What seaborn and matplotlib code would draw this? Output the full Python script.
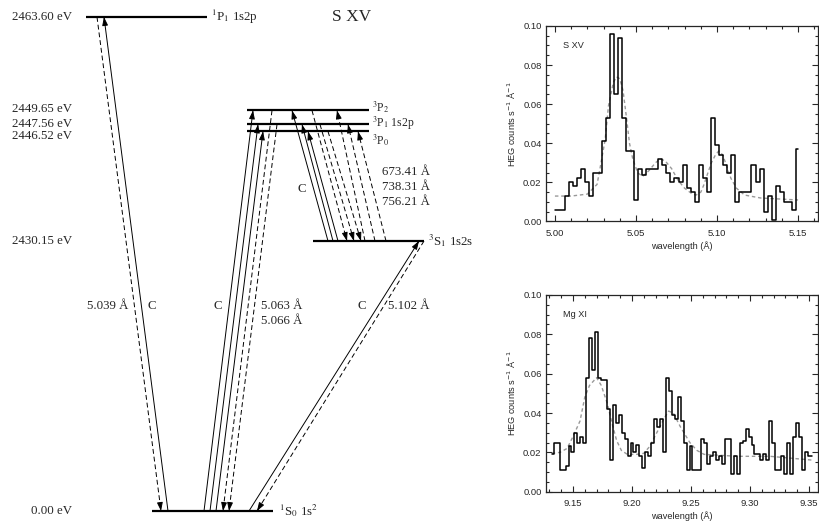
import numpy as np
import pandas as pd
import matplotlib
matplotlib.use('Agg')
import matplotlib.pyplot as plt
from matplotlib.ticker import MultipleLocator, FormatStrFormatter
import seaborn as sns

# HEG spectra, counts s^-1 A^-1, one value per 0.0025 A bin
bin_width = 0.0025
sxv_first_bin = 5.000
sxv_counts = [0.006, 0.006, 0.006, 0.013, 0.020, 0.018, 0.022, 0.027, 0.020, 0.013,
              0.025, 0.025, 0.041, 0.053, 0.096, 0.065, 0.094, 0.053, 0.036, 0.036,
              0.011, 0.027, 0.024, 0.027, 0.027, 0.027, 0.032, 0.029, 0.025, 0.020,
              0.022, 0.020, 0.029, 0.017, 0.015, 0.010, 0.029, 0.022, 0.015, 0.053,
              0.039, 0.034, 0.029, 0.025, 0.034, 0.010, 0.015, 0.015, 0.015, 0.029,
              0.020, 0.027, 0.005, 0.013, 0.001, 0.018, 0.015, 0.010, 0.010, 0.006,
              0.037]
sxv_fit_wave = [5.000, 5.010, 5.020, 5.026, 5.028, 5.031, 5.033, 5.036, 5.038, 5.040,
                5.042, 5.044, 5.046, 5.048, 5.051, 5.054, 5.058, 5.062, 5.065, 5.068,
                5.072, 5.076, 5.080, 5.084, 5.087, 5.090, 5.092, 5.094, 5.0965, 5.099,
                5.101, 5.1036, 5.106, 5.1086, 5.112, 5.117, 5.127, 5.150]
sxv_fit = [0.013, 0.013, 0.014, 0.019, 0.028, 0.042, 0.059, 0.071, 0.074, 0.073,
           0.067, 0.054, 0.040, 0.032, 0.025, 0.023, 0.026, 0.030, 0.032, 0.031,
           0.027, 0.021, 0.017, 0.0145, 0.0135, 0.015, 0.019, 0.024, 0.030, 0.034,
           0.036, 0.034, 0.028, 0.022, 0.017, 0.0135, 0.012, 0.011]

mgxi_first_bin = 9.1325
mgxi_counts = [0.019, 0.025, 0.025, 0.011, 0.011, 0.013, 0.023, 0.020, 0.030, 0.025,
               0.028, 0.025, 0.058, 0.078, 0.062, 0.081, 0.058, 0.057, 0.057, 0.042,
               0.016, 0.044, 0.035, 0.039, 0.030, 0.027, 0.018, 0.025, 0.020, 0.024,
               0.018, 0.012, 0.020, 0.018, 0.025, 0.037, 0.033, 0.037, 0.020, 0.058,
               0.051, 0.039, 0.037, 0.048, 0.036, 0.025, 0.011, 0.023, 0.011, 0.011,
               0.011, 0.027, 0.025, 0.014, 0.018, 0.020, 0.016, 0.018, 0.014, 0.027,
               0.027, 0.009, 0.018, 0.009, 0.025, 0.026, 0.032, 0.028, 0.024, 0.019,
               0.019, 0.016, 0.019, 0.016, 0.036, 0.025, 0.011, 0.011, 0.018, 0.009,
               0.025, 0.009, 0.028, 0.035, 0.028, 0.011, 0.020, 0.018, 0.018]
mgxi_fit_wave = [9.132, 9.139, 9.145, 9.150, 9.156, 9.160, 9.164, 9.170, 9.174, 9.179,
                 9.183, 9.187, 9.191, 9.196, 9.204, 9.210, 9.215, 9.221, 9.227, 9.231,
                 9.235, 9.241, 9.244, 9.249, 9.255, 9.261, 9.289, 9.317, 9.354]
mgxi_fit = [0.0195, 0.020, 0.022, 0.028, 0.036, 0.048, 0.054, 0.058, 0.054, 0.045,
            0.035, 0.026, 0.021, 0.019, 0.019, 0.0195, 0.023, 0.030, 0.037, 0.041,
            0.040, 0.033, 0.030, 0.025, 0.021, 0.019, 0.018, 0.018, 0.016]

# S XV energy levels
level_ev = [0.00, 2430.15, 2446.52, 2447.56, 2449.65, 2463.60]
level_text = ['0.00 eV', '2430.15 eV', '2446.52 eV', '2447.56 eV', '2449.65 eV', '2463.60 eV']
level_names = [r'$^{1}$S$_{0}$ 1s$^{2}$', r'$^{3}$S$_{1}$ 1s2s', r'$^{3}$P$_{0}$',
               r'$^{3}$P$_{1}$ 1s2p', r'$^{3}$P$_{2}$', r'$^{1}$P$_{1}$ 1s2p']
# wavelengths of the transitions
line_labels = ['5.039 Å', '5.063 Å', '5.066 Å', '5.102 Å', '673.41 Å', '738.31 Å', '756.21 Å']

# ---- layout of the schematic (x in pixels, y in eV, ground put on a broken scale) ----
PX_PER_EV = 224 / 33.45
TOP_EV = 2463.60 + 17 / PX_PER_EV
GROUND_SHOW = TOP_EV - 511 / PX_PER_EV


def ev_y(i):
    return GROUND_SHOW if level_ev[i] == 0 else level_ev[i]


def py(p):
    return TOP_EV - p / PX_PER_EV


level_x = [(152, 273), (313, 424), (247, 369), (247, 369), (247, 369), (86, 207)]
name_x = [279, 428, 372, 372, 372, 211]
text_dy = [0, 0, 5, 0, -1, 0]

# (from level, x at from, to level, x at to, dashed)
transitions = [
    (5, 97, 0, 161, True), (0, 168, 5, 104, False),
    (0, 204, 4, 253, False), (0, 210, 3, 258, False), (0, 216, 2, 263, False),
    (4, 272, 0, 223, True), (3, 277, 0, 229, True),
    (1, 328, 4, 292, False), (1, 333, 3, 302, False), (1, 338, 2, 308, False),
    (4, 312, 1, 347, True), (3, 320, 1, 354, True), (2, 328, 1, 361, True),
    (1, 365, 4, 337, True), (1, 375, 3, 348, True), (1, 386, 2, 358, True),
    (0, 249, 1, 419, False), (1, 424, 0, 257, True),
]

sns.set_style('ticks')
plt.rcParams['font.family'] = ['Liberation Serif', 'DejaVu Serif']
plt.rcParams['mathtext.fontset'] = 'stix'

fig = plt.figure(figsize=(8.19, 5.21), dpi=100)

# ---- level diagram ----
ax = fig.add_axes([0, 0, 1, 1])
ax.set_xlim(0, 819)
ax.set_ylim(TOP_EV - 521 / PX_PER_EV, TOP_EV)
ax.axis('off')

for i in range(len(level_ev)):
    y = ev_y(i)
    ax.hlines(y, level_x[i][0], level_x[i][1], color='k', lw=1.6)
    ax.text(72, y - text_dy[i] / PX_PER_EV, level_text[i], ha='right', va='center', fontsize=9.3)
    if i in (0, 1, 5):
        ax.text(name_x[i], y, level_names[i], ha='left', va='center', fontsize=9.3)

# the three close 3P levels share one stacked label
ax.text(name_x[3], ev_y(3) + 0.1, '\n'.join([level_names[4], level_names[3], level_names[2]]),
        ha='left', va='center', multialignment='left', fontsize=8.4, linespacing=1.0)

ax.text(352, py(17), 'S XV', ha='center', va='center', fontsize=12.5)

for a, xa, b, xb, dashed in transitions:
    ya, yb = ev_y(a), ev_y(b)
    ls = (0, (5, 3)) if dashed else '-'
    ax.plot([xa, xb], [ya, yb], color='k', lw=0.7, ls=ls)
    dx, dy = xb - xa, (yb - ya) * PX_PER_EV
    t = 1 - 7 / np.hypot(dx, dy)
    ax.annotate('', xy=(xb, yb), xytext=(xa + t * (xb - xa), ya + t * (yb - ya)),
                arrowprops=dict(arrowstyle='-|>,head_length=0.5,head_width=0.17',
                                color='k', lw=0.7, shrinkA=0, shrinkB=0))

lab = dict(fontsize=9.3, va='center')
ax.text(128, py(306), line_labels[0], ha='right', **lab)
ax.text(152, py(306), 'C', ha='center', **lab)
ax.text(218, py(306), 'C', ha='center', **lab)
ax.text(261, py(306), line_labels[1], ha='left', **lab)
ax.text(261, py(321), line_labels[2], ha='left', **lab)
ax.text(362, py(306), 'C', ha='center', **lab)
ax.text(388, py(306), line_labels[3], ha='left', **lab)
ax.text(302, py(189), 'C', ha='center', **lab)
ax.text(382, py(172), line_labels[4], ha='left', **lab)
ax.text(382, py(187), line_labels[5], ha='left', **lab)
ax.text(382, py(202), line_labels[6], ha='left', **lab)

# ---- spectra ----
spectra = [
    ('S XV', sxv_first_bin, sxv_counts, sxv_fit_wave, sxv_fit, (4.9943, 5.1623),
     [0.6663, 0.5749, 0.3325, 0.3753]),
    ('Mg XI', mgxi_first_bin, mgxi_counts, mgxi_fit_wave, mgxi_fit, (9.1269, 9.3576),
     [0.6663, 0.0562, 0.3325, 0.3776]),
]
sans = ['Liberation Sans', 'DejaVu Sans']
for name, first, counts, fw, fv, xlim, pos in spectra:
    sp = fig.add_axes(pos)
    df = pd.DataFrame({'wave': np.round(first + bin_width * np.arange(len(counts)), 4),
                       'flux': counts})
    fit = pd.DataFrame({'wave': fw, 'flux': fv})
    sns.lineplot(data=fit, x='wave', y='flux', ax=sp, estimator=None, sort=False,
                 color='0.6', lw=1.0, ls=(0, (2.5, 2.0)))
    sns.lineplot(data=df, x='wave', y='flux', ax=sp, estimator=None, sort=False,
                 color='k', lw=1.1, drawstyle='steps-mid')
    sp.set_xlim(*xlim)
    sp.set_ylim(0, 0.10)
    sp.xaxis.set_major_locator(MultipleLocator(0.05))
    sp.xaxis.set_minor_locator(MultipleLocator(0.01))
    sp.yaxis.set_major_locator(MultipleLocator(0.02))
    sp.yaxis.set_minor_locator(MultipleLocator(0.005))
    sp.xaxis.set_major_formatter(FormatStrFormatter('%.2f'))
    sp.yaxis.set_major_formatter(FormatStrFormatter('%.2f'))
    sp.tick_params(which='both', direction='in', top=True, right=True, width=0.8,
                   labelsize=6.8)
    sp.tick_params(which='major', length=4.5)
    sp.tick_params(which='minor', length=2.2)
    sp.tick_params(axis='x', pad=5.5)
    sp.tick_params(axis='y', pad=3)
    for lbl in sp.get_xticklabels() + sp.get_yticklabels():
        lbl.set_family(sans)
    for s in sp.spines.values():
        s.set_linewidth(0.9)
    sp.set_xlabel('wavelength (Å)', family=sans, fontsize=6.6, labelpad=2)
    sp.set_ylabel('HEG counts s$^{-1}$ Å$^{-1}$', family=sans, fontsize=6.6,
                  labelpad=3.5, math_fontfamily='dejavusans')
    sp.text(0.065, 0.9, name, transform=sp.transAxes, family=sans, fontsize=6.6,
            ha='left', va='center')

fig.savefig('out.png', dpi=100)
